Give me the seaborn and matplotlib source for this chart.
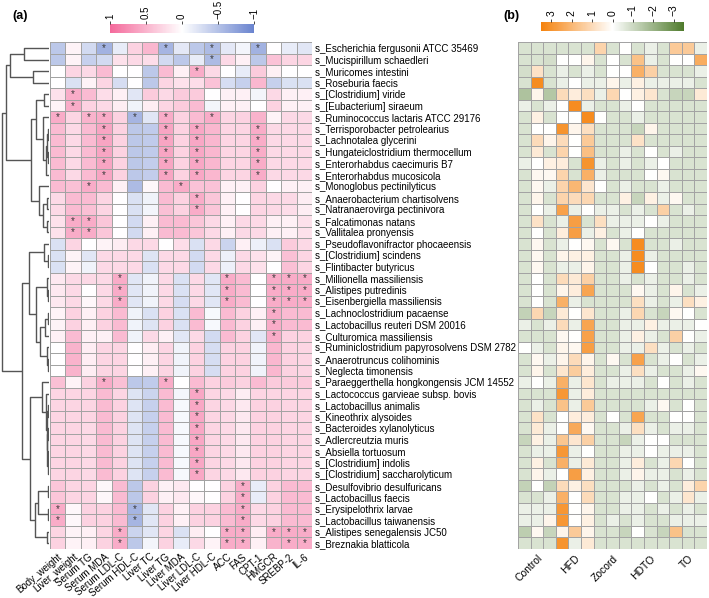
import numpy as np
import pandas as pd
import matplotlib
matplotlib.use("Agg")
import matplotlib.pyplot as plt
import seaborn as sns
from matplotlib.colors import LinearSegmentedColormap

# ==================
# Data
# ==================

species = [
    "s_Escherichia fergusonii ATCC 35469", "s_Mucispirillum schaedleri",
    "s_Muricomes intestini", "s_Roseburia faecis", "s_[Clostridium] viride",
    "s_[Eubacterium] siraeum", "s_Ruminococcus lactaris ATCC 29176",
    "s_Terrisporobacter petrolearius", "s_Lachnotalea glycerini",
    "s_Hungateiclostridium thermocellum", "s_Enterorhabdus caecimuris B7",
    "s_Enterorhabdus mucosicola", "s_Monoglobus pectinilyticus",
    "s_Anaerobacterium chartisolvens", "s_Natranaerovirga pectinivora",
    "s_Falcatimonas natans", "s_Vallitalea pronyensis",
    "s_Pseudoflavonifractor phocaeensis", "s_[Clostridium] scindens",
    "s_Flintibacter butyricus", "s_Millionella massiliensis",
    "s_Alistipes putredinis", "s_Eisenbergiella massiliensis",
    "s_Lachnoclostridium pacaense", "s_Lactobacillus reuteri DSM 20016",
    "s_Culturomica massiliensis", "s_Ruminiclostridium papyrosolvens DSM 2782",
    "s_Anaerotruncus colihominis", "s_Neglecta timonensis",
    "s_Paraeggerthella hongkongensis JCM 14552",
    "s_Lactococcus garvieae subsp. bovis", "s_Lactobacillus animalis",
    "s_Kineothrix alysoides", "s_Bacteroides xylanolyticus",
    "s_Adlercreutzia muris", "s_Absiella tortuosum",
    "s_[Clostridium] indolis", "s_[Clostridium] saccharolyticum",
    "s_Desulfovibrio desulfuricans", "s_Lactobacillus faecis",
    "s_Erysipelothrix larvae", "s_Lactobacillus taiwanensis",
    "s_Alistipes senegalensis JC50", "s_Breznakia blatticola",
]

traits = [
    "Body_weight", "Liver_weight", "Serum TG", "Serum MDA", "Serum LDL-C",
    "Serum HDL-C", "Liver TC", "Liver TG", "Liver MDA", "Liver LDL-C",
    "Liver HDL-C", "ACC", "FAS", "CPT-1", "HMGCR", "SREBP-2", "IL-6",
]

groups = ["Control", "HFD", "Zocord", "HDTO", "TO"]
samples_per_group = 3

# Spearman correlation (panel a), one row per species
corr_values = [
    [-0.45, 0.08, -0.30, -0.62, -0.15, 0.30, 0.48, -0.60, -0.18, -0.45, -0.55, -0.18, -0.08, -0.62, 0.00, -0.15, -0.20],
    [-0.45, 0.08, -0.38, -0.30, 0.20, 0.25, 0.22, -0.30, -0.45, -0.15, -0.55, 0.25, 0.10, -0.45, 0.40, 0.28, 0.28],
    [0.00, 0.28, 0.25, 0.45, 0.00, 0.00, -0.45, 0.45, 0.10, 0.55, 0.25, 0.00, -0.15, 0.35, 0.10, 0.00, 0.00],
    [0.00, -0.25, 0.08, 0.28, -0.28, 0.00, -0.45, 0.28, 0.20, 0.22, 0.40, -0.28, -0.38, 0.48, -0.38, -0.25, -0.25],
    [0.20, 0.55, 0.45, 0.22, 0.10, -0.20, 0.35, 0.25, 0.35, 0.35, 0.00, 0.10, 0.10, -0.08, 0.25, 0.10, 0.10],
    [0.08, 0.55, 0.30, 0.25, 0.12, -0.10, 0.12, 0.28, 0.35, 0.45, -0.08, 0.10, 0.10, 0.00, 0.30, 0.10, 0.10],
    [0.55, 0.28, 0.50, 0.55, 0.30, -0.60, -0.20, 0.55, 0.30, 0.45, 0.55, 0.28, 0.30, 0.50, 0.08, 0.25, 0.25],
    [0.45, 0.25, 0.45, 0.60, 0.30, -0.45, -0.42, 0.60, 0.30, 0.58, 0.48, 0.28, 0.28, 0.55, 0.25, 0.25, 0.25],
    [0.45, 0.25, 0.45, 0.60, 0.30, -0.45, -0.42, 0.60, 0.30, 0.58, 0.48, 0.28, 0.28, 0.55, 0.25, 0.25, 0.25],
    [0.45, 0.25, 0.45, 0.60, 0.30, -0.45, -0.42, 0.60, 0.30, 0.58, 0.48, 0.28, 0.28, 0.55, 0.25, 0.25, 0.25],
    [0.45, 0.25, 0.45, 0.60, 0.30, -0.45, -0.40, 0.60, 0.30, 0.58, 0.48, 0.28, 0.28, 0.55, 0.25, 0.25, 0.25],
    [0.45, 0.25, 0.45, 0.60, 0.30, -0.45, -0.40, 0.60, 0.30, 0.58, 0.48, 0.28, 0.28, 0.55, 0.25, 0.25, 0.25],
    [0.45, 0.42, 0.55, 0.45, 0.10, -0.55, 0.05, 0.45, 0.55, 0.40, 0.40, 0.10, 0.10, 0.30, 0.00, 0.10, 0.10],
    [0.25, 0.45, 0.45, 0.28, 0.00, -0.25, -0.10, 0.45, 0.30, 0.55, 0.38, 0.10, 0.00, 0.28, 0.25, 0.25, 0.12],
    [0.25, 0.45, 0.42, 0.28, 0.00, -0.25, -0.08, 0.42, 0.30, 0.55, 0.38, 0.10, 0.00, 0.28, 0.25, 0.22, 0.12],
    [0.20, 0.55, 0.55, 0.38, 0.00, -0.30, 0.10, 0.45, 0.45, 0.38, 0.25, 0.10, 0.25, 0.25, 0.10, 0.10, 0.20],
    [0.20, 0.55, 0.55, 0.38, 0.00, -0.30, 0.10, 0.45, 0.45, 0.38, 0.25, 0.10, 0.25, 0.25, 0.10, 0.10, 0.20],
    [-0.25, 0.28, 0.00, 0.08, 0.12, 0.25, 0.25, 0.00, 0.22, -0.25, 0.25, -0.35, 0.10, -0.12, -0.25, 0.35, 0.25],
    [-0.25, 0.08, -0.20, 0.25, 0.25, 0.25, -0.22, 0.25, 0.25, -0.30, 0.25, -0.12, 0.25, 0.20, 0.08, 0.42, 0.28],
    [-0.25, 0.08, -0.10, 0.25, 0.25, 0.25, -0.25, 0.25, 0.25, -0.30, 0.25, -0.12, 0.25, 0.20, 0.00, 0.42, 0.28],
    [0.15, 0.25, 0.25, 0.25, 0.55, -0.20, -0.10, 0.25, -0.25, 0.25, -0.20, 0.55, 0.45, 0.00, 0.55, 0.55, 0.55],
    [0.15, 0.25, 0.00, 0.25, 0.55, -0.20, -0.10, 0.25, -0.25, 0.25, -0.20, 0.55, 0.45, 0.00, 0.55, 0.55, 0.55],
    [0.15, 0.25, 0.05, 0.25, 0.55, -0.20, -0.10, 0.25, -0.28, 0.25, -0.20, 0.55, 0.45, 0.00, 0.55, 0.55, 0.55],
    [0.08, 0.30, 0.10, 0.30, 0.45, -0.10, -0.25, 0.30, -0.25, 0.45, -0.05, 0.45, 0.30, 0.10, 0.55, 0.45, 0.45],
    [0.08, 0.30, 0.10, 0.30, 0.45, -0.10, -0.22, 0.30, -0.25, 0.45, -0.05, 0.45, 0.30, 0.10, 0.55, 0.45, 0.45],
    [0.10, 0.45, 0.10, 0.10, 0.45, -0.10, 0.25, 0.10, -0.20, 0.25, -0.30, 0.45, 0.30, -0.20, 0.55, 0.30, 0.30],
    [0.00, 0.50, 0.12, 0.28, 0.28, 0.00, 0.12, 0.28, -0.10, 0.30, -0.28, 0.30, 0.30, -0.10, 0.48, 0.30, 0.28],
    [0.00, 0.50, 0.12, 0.28, 0.28, 0.00, 0.10, 0.28, -0.10, 0.30, -0.28, 0.30, 0.30, -0.10, 0.48, 0.30, 0.28],
    [0.00, 0.50, 0.12, 0.28, 0.28, 0.00, 0.10, 0.28, -0.10, 0.30, -0.28, 0.30, 0.30, -0.10, 0.48, 0.30, 0.28],
    [0.42, 0.08, 0.30, 0.55, 0.42, -0.45, -0.42, 0.55, 0.00, 0.45, 0.30, 0.35, 0.30, 0.45, 0.35, 0.35, 0.35],
    [0.28, 0.28, 0.28, 0.45, 0.28, -0.22, -0.35, 0.45, -0.08, 0.58, 0.28, 0.25, 0.12, 0.28, 0.28, 0.28, 0.28],
    [0.28, 0.28, 0.28, 0.45, 0.30, -0.22, -0.38, 0.45, -0.06, 0.58, 0.28, 0.25, 0.15, 0.30, 0.30, 0.28, 0.28],
    [0.28, 0.28, 0.28, 0.45, 0.30, -0.22, -0.38, 0.45, -0.06, 0.58, 0.28, 0.25, 0.15, 0.30, 0.30, 0.28, 0.28],
    [0.28, 0.28, 0.25, 0.45, 0.30, -0.22, -0.38, 0.45, -0.06, 0.58, 0.28, 0.25, 0.15, 0.30, 0.30, 0.28, 0.28],
    [0.28, 0.28, 0.25, 0.45, 0.30, -0.22, -0.38, 0.45, -0.06, 0.58, 0.28, 0.25, 0.15, 0.30, 0.30, 0.28, 0.28],
    [0.28, 0.28, 0.25, 0.45, 0.30, -0.22, -0.38, 0.45, -0.06, 0.58, 0.28, 0.25, 0.15, 0.30, 0.30, 0.28, 0.28],
    [0.28, 0.28, 0.25, 0.45, 0.30, -0.22, -0.38, 0.45, -0.06, 0.58, 0.28, 0.25, 0.15, 0.30, 0.30, 0.28, 0.28],
    [0.28, 0.28, 0.25, 0.45, 0.30, -0.22, -0.38, 0.45, -0.06, 0.58, 0.28, 0.25, 0.15, 0.30, 0.30, 0.28, 0.28],
    [0.38, 0.28, 0.28, 0.05, 0.45, -0.45, 0.30, 0.10, 0.15, 0.00, 0.00, 0.30, 0.55, -0.15, 0.30, 0.45, 0.45],
    [0.38, 0.28, 0.28, 0.05, 0.45, -0.45, 0.30, 0.10, 0.15, 0.05, 0.00, 0.30, 0.55, -0.15, 0.30, 0.45, 0.45],
    [0.55, 0.05, 0.30, 0.30, 0.45, -0.60, -0.20, 0.30, 0.10, 0.30, 0.30, 0.45, 0.55, 0.25, 0.30, 0.45, 0.45],
    [0.55, 0.05, 0.30, 0.30, 0.45, -0.60, -0.20, 0.30, 0.10, 0.30, 0.30, 0.45, 0.55, 0.25, 0.30, 0.45, 0.45],
    [0.28, 0.08, 0.10, 0.28, 0.55, -0.35, -0.20, 0.28, -0.25, 0.12, 0.00, 0.55, 0.55, 0.12, 0.55, 0.55, 0.55],
    [0.30, 0.08, 0.10, 0.30, 0.55, -0.45, -0.08, 0.30, -0.15, 0.25, 0.08, 0.55, 0.55, 0.10, 0.50, 0.55, 0.55],
]

# significant cells (row -> trait columns with "*")
star_cells = {
    0: [3, 7, 10, 13], 1: [10], 2: [9], 4: [1], 5: [1],
    6: [0, 2, 3, 5, 7, 10],
    7: [3, 7, 9, 13], 8: [3, 7, 9, 13], 9: [3, 7, 9, 13],
    10: [3, 7, 9, 13], 11: [3, 7, 9, 13],
    12: [2, 8], 13: [9], 14: [9], 15: [1, 2], 16: [1, 2],
    20: [4, 11, 14, 15, 16], 21: [4, 11, 14, 15, 16], 22: [4, 11, 14, 15, 16],
    23: [14], 24: [14], 25: [14],
    29: [3, 7],
    30: [9], 31: [9], 32: [9], 33: [9], 34: [9], 35: [9], 36: [9], 37: [9],
    38: [12], 39: [12], 40: [0, 5, 12], 41: [0, 5, 12],
    42: [4, 11, 12, 14, 15, 16], 43: [4, 11, 12, 15, 16],
}

# scaled abundance (panel b), 3 samples per group
abund_values = [
    [-0.75, -0.75, -0.75, -0.75, -0.75, -0.75, 1.2, -0.75, 0.0, -0.75, -0.4, -0.75, 1.5, 1.5, -0.4],
    [-0.75, -0.75, -0.85, 0.0, 0.0, 0.3, -0.75, 0.0, -0.75, 1.7, -0.4, -0.75, 0.0, 0.0, 2.3],
    [-0.85, 0.8, -0.75, -0.4, -0.75, -0.4, -0.75, 0.0, 0.0, 2.2, 1.3, -0.75, -0.75, -0.75, -0.4],
    [-0.75, 3.2, -0.75, -0.4, 0.0, -0.4, -0.4, 0.3, -0.4, 0.4, -0.4, -0.4, -0.4, -0.4, -0.75],
    [-1.6, 0.3, -1.5, 1.0, 0.5, 0.9, -0.4, 1.1, 0.0, 0.4, 0.7, -0.75, -1.1, -1.1, 0.6],
    [-0.4, -0.75, -0.4, 0.0, 3.2, -0.4, -0.75, -0.75, -0.4, 0.0, -0.75, -0.75, -0.75, -0.75, -0.75],
    [-0.75, 0.4, -0.75, 0.0, 0.0, 3.2, 0.0, -0.75, -0.75, -0.4, -0.75, -0.75, -0.75, -0.75, -0.75],
    [-0.75, 0.0, 0.0, 3.0, 0.3, 0.9, -0.75, -0.75, -0.75, -1.1, 0.3, -0.75, -0.75, -0.75, -0.75],
    [-0.75, 1.0, 0.3, 1.0, 0.0, 1.5, -0.75, -0.75, -0.75, 0.8, -0.75, -0.75, -0.75, -0.75, -0.75],
    [-0.75, 0.6, -0.75, 1.2, 0.0, 1.8, -0.75, -0.75, -0.4, -0.75, 0.0, -0.75, -0.4, -0.75, -0.75],
    [-0.4, 0.0, 0.4, 0.5, -0.75, 3.0, -0.4, -0.75, -0.4, -0.75, -0.4, 0.0, -0.75, -0.75, -0.75],
    [-0.75, 0.2, 0.2, 1.2, -0.75, 2.2, -0.4, -0.75, -0.75, -0.75, 0.0, 0.2, -0.75, -0.75, -0.75],
    [-0.75, 0.2, -0.4, 1.2, 2.0, 0.7, 0.0, -0.75, -0.4, -0.75, -0.75, -0.4, -0.75, -0.75, -0.75],
    [-0.75, 0.3, -0.75, 1.2, 1.0, 1.1, -0.75, -0.75, 0.4, -1.1, 0.4, -0.4, 0.2, -0.75, -0.75],
    [-0.75, 0.0, -0.4, 2.6, -0.4, 0.0, -0.4, -0.4, -0.75, -0.4, -0.75, 1.3, -0.75, -0.4, -0.75],
    [-0.75, 0.8, -0.75, -0.4, 2.7, -0.75, 0.9, -0.4, -0.4, -0.4, 0.0, -0.4, -0.75, -0.75, -0.75],
    [-0.75, 0.0, -0.75, 0.5, 2.7, -0.4, 0.4, -0.75, -0.4, 0.0, -0.75, -0.75, -0.75, -0.75, -0.75],
    [-0.75, 0.2, -0.75, -0.4, 0.0, 0.2, -0.75, 0.2, -0.75, 3.2, -0.75, -0.75, -0.4, -0.75, -0.75],
    [-0.75, 0.2, -0.75, 0.3, 0.4, 0.4, -0.75, -0.75, -0.4, 3.2, -0.4, -0.75, -0.75, -0.75, -0.75],
    [-0.75, 0.2, -0.75, -0.4, -0.4, 0.3, -0.75, -0.75, -0.4, 3.2, 0.0, -0.75, -0.75, -0.4, -0.75],
    [-0.75, 0.0, -0.75, 1.0, 0.6, 1.3, -0.75, -0.75, -0.4, -0.75, -0.4, -0.75, -0.75, -0.4, -0.75],
    [-0.75, 0.0, -0.75, 0.3, 0.5, 2.5, -0.75, -0.75, -0.75, 0.2, -0.4, -0.75, 0.3, -0.75, -0.4],
    [-0.75, 0.0, -0.75, 2.2, -0.4, -0.75, -0.75, -0.75, -0.75, 0.9, -0.4, -0.75, -0.4, 0.9, 0.4],
    [-1.2, 1.1, -1.1, 0.6, 0.0, 0.7, -0.75, -0.75, -0.4, 1.1, -0.75, -1.1, 0.2, 0.0, -0.75],
    [-0.4, -0.75, -0.4, 1.0, -0.4, 2.5, -0.75, -0.75, -0.4, -0.4, 0.4, -0.4, -0.4, -0.4, 0.0],
    [-0.75, -0.75, -0.75, 0.2, 0.0, 2.6, -0.75, -0.75, -0.4, 0.4, -0.4, -0.75, 1.3, 0.0, -0.4],
    [0.0, -0.4, -0.75, 0.3, 0.2, 2.7, -0.75, -0.75, -0.4, -0.4, 0.9, -0.4, -0.75, -0.4, -0.75],
    [-0.75, 0.2, -0.4, 0.3, 1.0, 0.3, -0.75, 0.2, -0.75, 2.6, -0.75, -0.4, 0.0, -0.75, -0.4],
    [-0.75, 0.3, -0.75, 0.7, 1.4, 0.5, -0.75, -0.75, -0.4, 0.9, -0.4, -0.75, -0.75, -0.4, 0.2],
    [-0.4, 0.0, -0.4, 2.2, -0.4, 0.7, -0.75, -0.4, -0.4, -0.4, -0.75, 0.0, -0.75, -0.4, -0.75],
    [-0.75, -0.75, -0.75, 2.9, -0.4, 0.5, -0.75, -0.75, -0.75, -0.75, -0.75, -0.75, -0.75, -0.75, -0.75],
    [-0.75, -0.4, -0.75, 1.7, -0.4, 1.5, -0.75, -0.75, -0.75, -0.75, -0.4, 0.2, -0.75, 0.0, -0.75],
    [-0.75, 0.8, -0.75, 0.0, 0.5, 0.5, -0.75, 0.0, -0.75, 2.5, -0.75, -0.75, 0.0, 0.0, -0.75],
    [-0.75, 0.6, -0.4, 0.0, 2.4, 0.2, -0.75, -0.75, -0.4, 0.9, -0.4, -0.75, -0.4, -0.4, -0.75],
    [-1.1, 0.4, -0.4, 1.6, 0.7, 1.3, -0.75, -0.75, -1.1, -0.4, 0.0, 0.0, -0.75, -0.75, -0.75],
    [-0.75, -0.4, -0.4, 2.9, -0.4, 0.0, -0.75, -0.75, -0.4, -0.4, 0.0, -0.4, -0.4, -0.4, -0.75],
    [-0.75, 0.4, -0.75, 2.2, -0.4, 0.6, -0.75, -0.75, -0.4, 0.5, -0.75, -0.4, 1.1, 0.0, -0.75],
    [-0.75, 0.3, -0.4, 0.0, 2.7, 0.4, -0.75, -0.75, -0.4, 0.3, -0.4, -0.4, -0.75, -0.4, -0.75],
    [-1.2, 0.0, -1.2, 1.0, 0.4, 0.9, -0.75, -0.75, -0.75, -0.4, -0.75, -0.4, -0.75, 0.5, 1.2],
    [-0.75, -0.75, -0.4, 2.2, 0.0, 1.0, -0.75, -0.75, -0.4, -0.4, 0.0, -0.75, -0.4, 0.7, -0.4],
    [-0.4, -0.4, -0.4, 2.9, 0.0, 0.3, -0.75, -0.75, -0.4, -0.4, -0.75, -0.4, -0.75, -0.4, -0.75],
    [-0.4, -0.4, 0.3, 2.9, 0.0, 0.4, -0.75, -0.4, -0.75, -0.4, -0.75, -0.75, -0.4, -0.4, -0.4],
    [-1.3, 0.2, -1.1, 0.3, 1.5, 0.3, -0.75, -0.75, -1.1, 0.0, -0.75, -1.1, 1.7, -0.75, -0.75],
    [-0.75, -0.75, -0.75, 3.0, -0.4, 0.6, -0.75, -0.75, -0.75, -0.75, -0.75, -0.75, -0.75, -0.75, -0.75],
]

# row dendrogram: (child_a, child_b, height); ids >= 44 are earlier merges
row_linkage = [
    (0, 1, 0.55),      # 44
    (2, 3, 0.36),      # 45
    (44, 45, 0.86),    # 46
    (4, 5, 0.12),      # 47
    (7, 8, 0.03),      # 48
    (9, 10, 0.03),     # 49
    (48, 49, 0.05),    # 50
    (50, 11, 0.07),    # 51
    (6, 51, 0.14),     # 52
    (47, 52, 0.30),    # 53
    (13, 14, 0.04),    # 54
    (15, 16, 0.05),    # 55
    (54, 55, 0.14),    # 56
    (12, 56, 0.22),    # 57
    (53, 57, 0.40),    # 58
    (46, 58, 0.95),    # 59
    (18, 19, 0.03),    # 60
    (17, 60, 0.12),    # 61
    (21, 22, 0.03),    # 62
    (20, 62, 0.05),    # 63
    (23, 24, 0.03),    # 64
    (64, 25, 0.10),    # 65
    (27, 28, 0.02),    # 66
    (26, 66, 0.04),    # 67
    (65, 67, 0.20),    # 68
    (63, 68, 0.30),    # 69
    (61, 69, 0.45),    # 70
    (31, 32, 0.02),    # 71
    (33, 34, 0.02),    # 72
    (35, 36, 0.02),    # 73
    (73, 37, 0.03),    # 74
    (72, 74, 0.04),    # 75
    (71, 75, 0.05),    # 76
    (30, 76, 0.07),    # 77
    (29, 77, 0.15),    # 78
    (38, 39, 0.03),    # 79
    (40, 41, 0.03),    # 80
    (79, 80, 0.25),    # 81
    (42, 43, 0.05),    # 82
    (81, 82, 0.32),    # 83
    (78, 83, 0.42),    # 84
    (70, 84, 0.60),    # 85
    (59, 85, 1.05),    # 86
]

# ==================
# Style
# ==================

plt.rcParams["font.family"] = ["Liberation Sans", "DejaVu Sans"]
plt.rcParams["axes.unicode_minus"] = True

cmap_a = LinearSegmentedColormap.from_list(
    "corr", ["#6a84cf", "#ffffff", "#f4699b"]
)
cmap_b = LinearSegmentedColormap.from_list(
    "abund", ["#4f7b2c", "#ffffff", "#f5820d"]
)

fig = plt.figure(figsize=(7.09, 5.98), dpi=100)
W, H = 709.0, 598.0


def box(x0, y0, x1, y1):
    return [x0 / W, 1 - y1 / H, (x1 - x0) / W, (y1 - y0) / H]


grid_top, grid_bottom = 42.3, 549.0

ax_d = fig.add_axes(box(1, grid_top, 49, grid_bottom))
ax_a = fig.add_axes(box(50, grid_top, 312, grid_bottom))
cax_a = fig.add_axes(box(110, 24, 254, 33))
ax_b = fig.add_axes(box(518, grid_top, 707, grid_bottom))
cax_b = fig.add_axes(box(541, 21.7, 684, 31))

# ==================
# Panel (a) heatmap
# ==================

corr_df = pd.DataFrame(corr_values, index=species, columns=traits)
star_df = pd.DataFrame("", index=species, columns=traits)
for r, cols in star_cells.items():
    for c in cols:
        star_df.iloc[r, c] = "*"

sns.heatmap(
    corr_df, ax=ax_a, cmap=cmap_a, vmin=-1, vmax=1,
    annot=star_df, fmt="",
    annot_kws={"fontsize": 7, "color": "#3a3a3a"},
    linewidths=0.7, linecolor="#a3a3a3",
    cbar_ax=cax_a, cbar_kws={"orientation": "horizontal"},
)

ax_a.yaxis.tick_right()
ax_a.set_yticks(np.arange(len(species)) + 0.5)
ax_a.set_yticklabels(species, rotation=0, fontsize=7)
ax_a.set_xticks(np.arange(len(traits)) + 0.5)
ax_a.set_xticklabels(traits, rotation=40, ha="right",
                     rotation_mode="anchor", fontsize=7)
ax_a.tick_params(length=0, pad=2)
ax_a.set_xlabel("")
ax_a.set_ylabel("")

cax_a.invert_xaxis()
cax_a.xaxis.set_ticks_position("top")
cax_a.set_xticks([1, 0.5, 0, -0.5, -1])
cax_a.set_xticklabels(["1", "0.5", "0", "\u22120.5", "\u22121"],
                      rotation=90, fontsize=7)
cax_a.tick_params(length=2, width=0.5, pad=1.5)
for s in cax_a.spines.values():
    s.set_visible(False)

# ==================
# Dendrogram
# ==================

n_leaf = len(species)
pos = {i: (0.0, i + 0.5) for i in range(n_leaf)}
for k, (a, b, h) in enumerate(row_linkage):
    xa, ya = pos[a]
    xb, yb = pos[b]
    ax_d.plot([xa, h, h, xb], [ya, ya, yb, yb],
              color="#555555", lw=1.0, solid_capstyle="butt")
    pos[n_leaf + k] = (h, (ya + yb) / 2)

root_h = row_linkage[-1][2]
ax_d.set_xlim(root_h * 1.02, 0)
ax_d.set_ylim(n_leaf, 0)
ax_d.axis("off")

# ==================
# Panel (b) heatmap
# ==================

sample_cols = [f"{g}_{i + 1}" for g in groups for i in range(samples_per_group)]
abund_df = pd.DataFrame(abund_values, index=species, columns=sample_cols)

sns.heatmap(
    abund_df, ax=ax_b, cmap=cmap_b, vmin=-3.5, vmax=3.5,
    linewidths=0.7, linecolor="#a3a3a3",
    yticklabels=False,
    cbar_ax=cax_b, cbar_kws={"orientation": "horizontal"},
)
ax_b.set_xticks(np.arange(len(groups)) * samples_per_group + 1.5)
ax_b.set_xticklabels(groups, rotation=45, ha="right",
                     rotation_mode="anchor", fontsize=7.5)
ax_b.tick_params(length=0, pad=3)
ax_b.set_xlabel("")
ax_b.set_ylabel("")

cax_b.invert_xaxis()
cax_b.xaxis.set_ticks_position("top")
cax_b.set_xticks([3, 2, 1, 0, -1, -2, -3])
cax_b.set_xticklabels(["3", "2", "1", "0", "\u22121", "\u22122", "\u22123"],
                      rotation=90, fontsize=7.5)
cax_b.tick_params(length=2, width=0.5, pad=2)
for s in cax_b.spines.values():
    s.set_visible(False)

fig.text(12 / W, 1 - 16 / H, "(a)", fontsize=9, fontweight="bold",
         va="center", ha="left")
fig.text(503 / W, 1 - 16 / H, "(b)", fontsize=9, fontweight="bold",
         va="center", ha="left")

fig.savefig("out.png", dpi=100)
